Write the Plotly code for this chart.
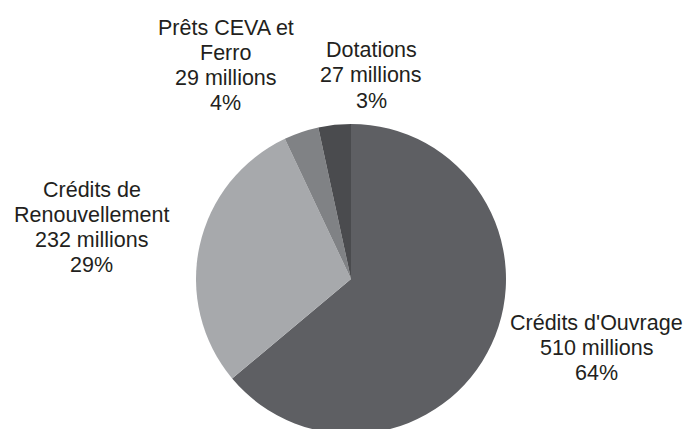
import plotly.graph_objects as go

W, H = 688, 440  # page is 429 tall; the pie runs slightly past the bottom edge

labels = ["Crédits d'Ouvrage", "Crédits de Renouvellement", "Prêts CEVA et Ferro", "Dotations"]
values = [510, 232, 29, 27]
colors = ["#5e5f63", "#a7a9ac", "#808285", "#4a4b4e"]

# label lines as shown on the chart
label_lines = [
    ["Crédits d'Ouvrage", "510 millions", "64%"],
    ["Crédits de", "Renouvellement", "232 millions", "29%"],
    ["Prêts CEVA et", "Ferro", "29 millions", "4%"],
    ["Dotations", "27 millions", "3%"],
]
# centre x and first-line y of each block, in pixels, plus line step
label_pos = [(596.5, 322.5), (92, 189.5), (226, 27.5), (371, 50)]
LINE_STEP = 25.3

fig = go.Figure(
    go.Pie(
        labels=labels,
        values=values,
        sort=False,
        direction="clockwise",
        rotation=0,
        marker={"colors": colors, "line": {"width": 0}},
        textinfo="none",
        hoverinfo="label+value+percent",
        domain={"x": [196 / W, 506 / W], "y": [1 - 434 / H, 1 - 124 / H]},
        showlegend=False,
    )
)

for lines, (px_x, px_y) in zip(label_lines, label_pos):
    for i, line in enumerate(lines):
        fig.add_annotation(
            text=line,
            x=px_x / W,
            y=1 - (px_y + i * LINE_STEP) / H,
            xref="paper",
            yref="paper",
            xanchor="center",
            yanchor="middle",
            showarrow=False,
            font={"family": "Arial, sans-serif", "size": 21.5, "color": "#231f20"},
        )

fig.update_layout(
    width=W,
    height=H,
    margin={"l": 0, "r": 0, "t": 0, "b": 0},
    paper_bgcolor="white",
    plot_bgcolor="white",
)

fig.write_html(
    "out.html",
    config={"displayModeBar": False},
    post_script="document.body.style.margin='0';document.body.style.overflow='hidden';",
)
